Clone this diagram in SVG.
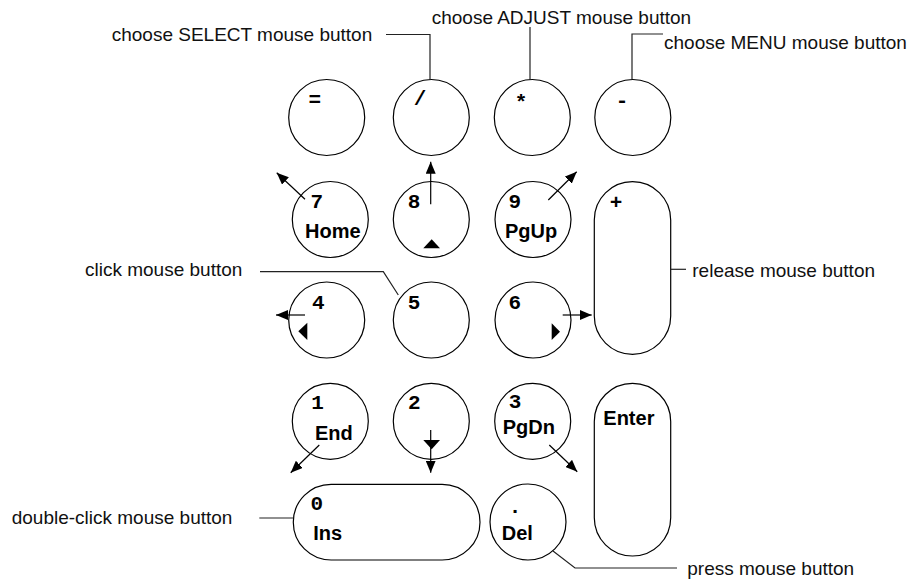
<svg xmlns="http://www.w3.org/2000/svg" width="910" height="580" viewBox="0 0 910 580">
<style>
  .key { fill: #fff; stroke: #000; stroke-width: 1.2; }
  .sym { font-family: "Liberation Mono", "Courier New", monospace; font-weight: bold; font-size: 21px; fill: #000; text-anchor: middle; }
  .word { font-family: "Liberation Sans", Arial, sans-serif; font-weight: bold; font-size: 20px; fill: #000; }
  .note { font-family: "Liberation Sans", Arial, sans-serif; font-size: 19px; fill: #111; }
  .lead { fill: none; stroke: #222; stroke-width: 1.2; }
  .arr { fill: none; stroke: #000; stroke-width: 1.2; marker-end: url(#ah); }
  .tri { fill: #000; stroke: none; }
</style>
<defs>
  <marker id="ah" markerUnits="userSpaceOnUse" markerWidth="12" markerHeight="10" refX="12" refY="5" orient="auto">
    <path d="M0,0 L12,5 L0,10 z" fill="#000"/>
  </marker>
</defs>
<rect width="910" height="580" fill="#fff"/>

<g id="key-equals"><circle class="key" cx="326.7" cy="117.5" r="38"/><text class="sym" x="314.7" y="106">=</text></g>
<g id="key-slash"><circle class="key" cx="431.3" cy="117.5" r="38"/><text class="sym" x="420" y="105">/</text></g>
<g id="key-star"><circle class="key" cx="532.3" cy="117.5" r="38"/><text class="sym" x="521" y="109">*</text></g>
<g id="key-minus"><circle class="key" cx="632.8" cy="117.5" r="38"/><text class="sym" x="622" y="107">-</text></g>

<g id="key-7"><circle class="key" cx="330.3" cy="219.5" r="38"/><text class="sym" x="316.7" y="208.3">7</text><text class="word" x="305" y="237.5">Home</text></g>
<g id="key-8"><circle class="key" cx="431.3" cy="219.5" r="38"/><text class="sym" x="414" y="208.3">8</text><polygon class="tri" points="423.3,248.3 440,248.3 431.7,239.3"/></g>
<g id="key-9"><circle class="key" cx="533" cy="219.5" r="38"/><text class="sym" x="514.7" y="208.3">9</text><text class="word" x="505" y="238">PgUp</text></g>
<g id="key-plus"><rect class="key" x="594.3" y="181.7" width="76.4" height="172.6" rx="38.2" ry="38.2"/><text class="sym" x="616" y="209">+</text></g>

<g id="key-4"><circle class="key" cx="326.7" cy="320" r="38"/><text class="sym" x="318.3" y="309.3">4</text><polygon class="tri" points="298.3,331.3 307.3,322.7 307.3,340"/></g>
<g id="key-5"><circle class="key" cx="431.3" cy="320" r="38"/><text class="sym" x="414" y="309.3">5</text></g>
<g id="key-6"><circle class="key" cx="533" cy="320" r="38"/><text class="sym" x="514.7" y="309.3">6</text><polygon class="tri" points="551.7,323.3 551.7,340 560,331.7"/></g>

<g id="key-1"><circle class="key" cx="330.3" cy="421.3" r="38"/><text class="sym" x="317.5" y="409.3">1</text><text class="word" x="315" y="440">End</text></g>
<g id="key-2"><circle class="key" cx="431.3" cy="421.3" r="38"/><text class="sym" x="414.3" y="409.3">2</text><polygon class="tri" points="423.3,440 440,440 431.7,449.3"/></g>
<g id="key-3"><circle class="key" cx="532.7" cy="421.3" r="38"/><text class="sym" x="515" y="408">3</text><text class="word" x="502.7" y="434">PgDn</text></g>
<g id="key-enter"><rect class="key" x="594.3" y="383.3" width="76.4" height="172.7" rx="38.2" ry="38.2"/><text class="word" x="603.3" y="425">Enter</text></g>

<g id="key-0"><rect class="key" x="293.3" y="484.3" width="186.7" height="75.7" rx="37.85" ry="37.85"/><text class="sym" x="316.7" y="510">0</text><text class="word" x="313.3" y="540">Ins</text></g>
<g id="key-dot"><circle class="key" cx="528" cy="522" r="38"/><text class="sym" x="515" y="512.7">.</text><text class="word" x="501.7" y="540">Del</text></g>

<g id="labels">
  <text class="note" x="111.7" y="40.7">choose SELECT mouse button</text>
  <text class="note" x="431.7" y="24.3">choose ADJUST mouse button</text>
  <text class="note" x="664" y="49">choose MENU mouse button</text>
  <text class="note" x="85" y="276">click mouse button</text>
  <text class="note" x="692.3" y="276.5">release mouse button</text>
  <text class="note" x="11.7" y="524">double-click mouse button</text>
  <text class="note" x="687.3" y="575">press mouse button</text>
</g>

<g id="connectors">
  <polyline class="lead" points="386,34.5 430,34.5 430,80"/>
  <polyline class="lead" points="530,27 530,80"/>
  <polyline class="lead" points="663,34 632,34 632,79.5"/>
  <polyline class="lead" points="260,271.7 383.3,271.7 398.3,295"/>
  <polyline class="lead" points="670.7,269.3 686,269.3"/>
  <polyline class="lead" points="259.3,518 293.3,518"/>
  <polyline class="lead" points="553,551 575,568 677,568"/>

  <line class="arr" x1="305" y1="199.3" x2="276.7" y2="172.7"/>
  <line class="arr" x1="430.7" y1="204.3" x2="430.7" y2="161.7"/>
  <line class="arr" x1="548.3" y1="200" x2="576.7" y2="171.7"/>
  <line class="arr" x1="305" y1="315" x2="276" y2="315"/>
  <line class="arr" x1="562.7" y1="315" x2="591.7" y2="315"/>
  <line class="arr" x1="319.3" y1="445" x2="290.7" y2="472.7"/>
  <line class="arr" x1="430.7" y1="430" x2="430.7" y2="472.7"/>
  <line class="arr" x1="549.3" y1="445" x2="577.3" y2="471.7"/>
</g>
</svg>
